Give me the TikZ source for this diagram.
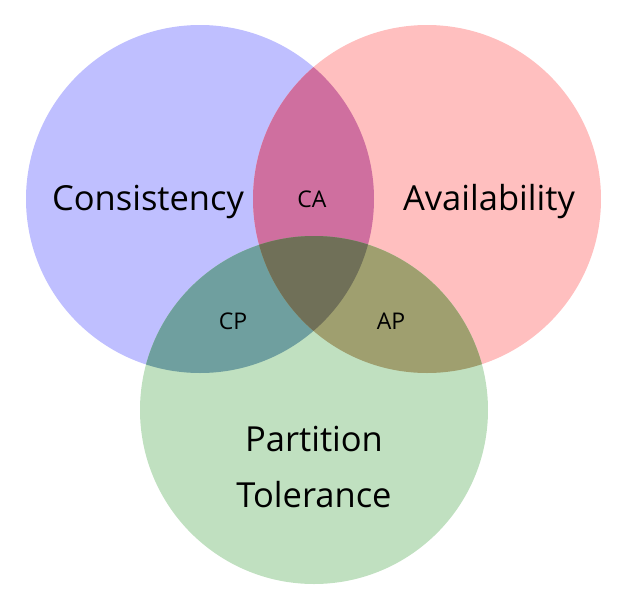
\documentclass[tikz,border=0pt]{standalone}
\usepackage{fontspec}
\setmainfont{Open Sans}
\definecolor{cblue}{RGB}{191,191,255}
\definecolor{cred}{RGB}{255,191,191}
\definecolor{cgreen}{RGB}{192,224,192}
\definecolor{cCA}{RGB}{207,111,159}
\definecolor{cCP}{RGB}{111,159,159}
\definecolor{cAP}{RGB}{159,159,111}
\definecolor{cCAP}{RGB}{112,112,88}
\begin{document}
\begin{tikzpicture}
  [x=1pt,y=-1pt,big/.style={font=\fontsize{34.5}{40}\selectfont},
   small/.style={font=\fontsize{23}{28}\selectfont}]
  \useasboundingbox (0,0) rectangle (633,598);
  \coordinate (c) at (200,199);
  \coordinate (a) at (427,199);
  \coordinate (p) at (314,410);

  \fill[cblue] (c) circle (174);
  \fill[cred] (a) circle (174);
  \fill[cgreen] (p) circle (174);

  \begin{scope}
    \clip (c) circle (174);
    \fill[cCA] (a) circle (174);
    \fill[cCP] (p) circle (174);
  \end{scope}
  \begin{scope}
    \clip (a) circle (174);
    \fill[cAP] (p) circle (174);
    \clip (c) circle (174);
    \fill[cCAP] (p) circle (174);
  \end{scope}

  \node[big] (cons) at (148,202) {Consistency};
  \node[big] (avail) at (489,202) {Availability};
  \node[big,align=center] (part) at (314,467) {Partition\\[16pt]Tolerance};
  \node[small] (ca) at (312,199) {CA};
  \node[small] (cp) at (233,321) {CP};
  \node[small] (ap) at (391,321) {AP};
\end{tikzpicture}
\end{document}
